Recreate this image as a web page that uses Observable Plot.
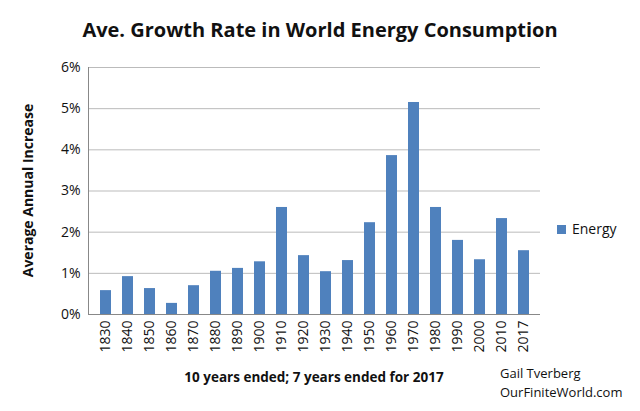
<!DOCTYPE html>
<html><head><meta charset="utf-8">
<script src="https://cdn.jsdelivr.net/npm/d3@7"></script>
<script src="https://cdn.jsdelivr.net/npm/@observablehq/plot@0.6"></script>
<style>
body{margin:0;background:#fff;font-family:"Open Sans",Lato,sans-serif}
#wrap{position:relative;width:640px;height:411px}
.t{position:absolute;white-space:nowrap}
</style></head><body>
<div id="wrap">
<div class="t" style="left:0;width:640px;top:16px;text-align:center;font-size:20px;font-weight:bold;color:#111">Ave. Growth Rate in World Energy Consumption</div>
<div class="t" style="left:88px;width:452px;top:368px;text-align:center;font-size:13.5px;font-weight:bold;color:#111">10 years ended; 7 years ended for 2017</div>
<div class="t" style="left:500px;top:364px;font-size:13px;color:#111;line-height:19px">Gail Tverberg<br>OurFiniteWorld.com</div>
<div class="t" style="left:18px;top:314px;transform-origin:0 0;transform:rotate(-90deg);width:247px;text-align:center;font-size:14px;font-weight:bold;color:#111">Average Annual Increase</div>
<div class="t" style="left:557px;top:219px;font-size:14px;color:#111"><span style="display:inline-block;width:9px;height:9px;background:#4f81bd;margin-right:6px"></span>Energy</div>
</div>
<script>
const years=["1830","1840","1850","1860","1870","1880","1890","1900","1910","1920","1930","1940","1950","1960","1970","1980","1990","2000","2010","2017"];
const values=[0.58,0.92,0.63,0.27,0.70,1.05,1.12,1.28,2.6,1.43,1.04,1.31,2.23,3.86,5.15,2.6,1.8,1.33,2.33,1.55];
const data=years.map((y,i)=>({year:y,v:values[i]/100}));
const chart=Plot.plot({
  width:640,height:411,marginTop:67,marginBottom:97,marginLeft:88,marginRight:100,
  style:{fontFamily:"Open Sans, sans-serif",fontSize:"14px",color:"#111",background:"transparent"},
  x:{domain:years,padding:0.5,label:null,tickRotate:-90,tickSize:0,tickPadding:6},
  y:{domain:[0,0.06],ticks:[0,0.01,0.02,0.03,0.04,0.05,0.06],tickFormat:d=>Math.round(d*100)+"%",label:null,tickSize:0,tickPadding:8},
  marks:[
    Plot.gridY([0.01,0.02,0.03,0.04,0.05,0.06],{stroke:"#bbb",strokeOpacity:1}),
    Plot.barY(data,{x:"year",y:"v",fill:"#4f81bd"}),
    Plot.ruleY([0],{stroke:"#888"}),
    Plot.frame({anchor:"left",stroke:"#888"})
  ]
});
chart.style.position="absolute";chart.style.left="0";chart.style.top="0";
document.getElementById("wrap").prepend(chart);
</script>
</body></html>
